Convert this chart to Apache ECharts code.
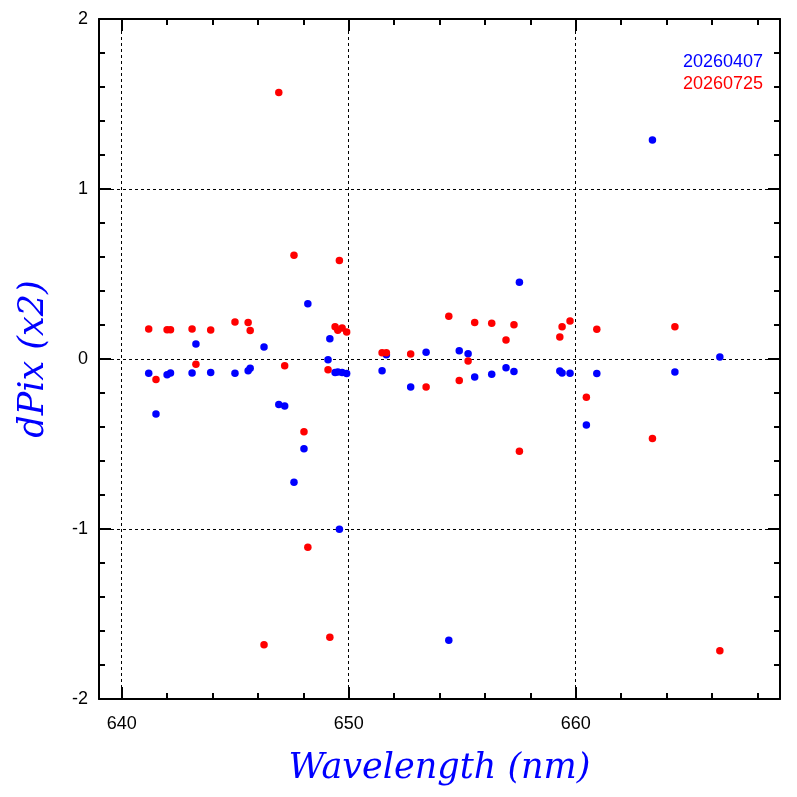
<!DOCTYPE html>
<html>
<head>
<meta charset="utf-8">
<script src="https://cdn.jsdelivr.net/npm/echarts@6/dist/echarts.min.js"></script>
<style>
  html, body { margin: 0; padding: 0; background: #fff; }
  #main { width: 797px; height: 797px; }
</style>
</head>
<body>
<div id="main"></div>
<script>
// wavelength of each line (nm)
var wavelength = [
  641.19, 641.51, 642.00, 642.15, 643.10, 643.27, 643.92, 644.99, 645.57, 645.66,
  646.27, 646.92, 647.18, 647.59, 648.03, 648.20, 649.09, 649.17, 649.40, 649.52,
  649.59, 649.71, 649.91, 651.47, 651.66, 652.73, 653.41, 654.41, 654.87, 655.26,
  655.55, 656.30, 656.93, 657.28, 657.52, 659.30, 659.40, 659.75, 660.47, 660.93,
  663.38, 664.37, 666.35
];
// dPix for run 20260407
var dpixA = [
  -0.084, -0.324, -0.092, -0.082, -0.082, 0.088, -0.080, -0.084, -0.069, -0.055,
  0.071, -0.267, -0.276, -0.725, -0.528, 0.325, -0.004, 0.119, -0.080, -0.076,
  -1.002, -0.080, -0.086, -0.069, 0.025, -0.165, 0.039, -1.655, 0.049, 0.031,
  -0.106, -0.090, -0.051, -0.074, 0.451, -0.071, -0.082, -0.084, -0.388, -0.086,
  1.288, -0.076, 0.012
];
// dPix for run 20260725
var dpixB = [
  0.176, -0.120, 0.172, 0.172, 0.176, -0.031, 0.171, 0.218, 0.214, 0.167,
  -1.681, 1.567, -0.039, 0.610, -0.428, -1.108, -0.063, -1.637, 0.190, 0.169,
  0.580, 0.182, 0.159, 0.037, 0.037, 0.029, -0.165, 0.251, -0.126, -0.012,
  0.214, 0.210, 0.112, 0.202, -0.543, 0.129, 0.190, 0.224, -0.225, 0.175,
  -0.467, 0.190, -1.716
];
var runNames = ['20260407', '20260725'];
var runColors = ['#0000ff', '#ff0000'];

var chart = echarts.init(document.getElementById('main'));

function pairs(ys) {
  return wavelength.map(function(x, i) { return [x, ys[i]]; });
}

var black = '#000';
var labelFont = 'Liberation Sans';
var titleFont = 'DejaVu Serif';

function xAx(pos, main) {
  return {
    type: 'value',
    position: pos,
    min: 639,
    max: 669,
    splitNumber: 3,
    axisLine: { onZero: false, lineStyle: { color: black, width: 2 } },
    axisTick: { inside: true, length: 12, lineStyle: { color: black, width: 2 } },
    minorTick: { show: true, splitNumber: 5, length: 6, lineStyle: { color: black, width: 2 } },
    axisLabel: {
      show: main, showMinLabel: false, showMaxLabel: false,
      color: black, fontSize: 18, fontFamily: labelFont, margin: 16
    },
    splitLine: { show: main, lineStyle: { color: black, width: 1, type: [3, 3] } },
    name: main ? 'Wavelength (nm)' : '',
    nameLocation: 'middle',
    nameGap: 52,
    nameTextStyle: { color: '#0000ff', fontSize: 35, fontStyle: 'italic', fontFamily: titleFont }
  };
}

function yAx(pos, main) {
  return {
    type: 'value',
    position: pos,
    min: -2,
    max: 2,
    interval: 1,
    axisLine: { onZero: false, lineStyle: { color: black, width: 2 } },
    axisTick: { inside: true, length: 12, lineStyle: { color: black, width: 2 } },
    minorTick: { show: true, splitNumber: 5, length: 6, lineStyle: { color: black, width: 2 } },
    axisLabel: { show: main, color: black, fontSize: 18, fontFamily: labelFont, margin: 11 },
    splitLine: { show: main, lineStyle: { color: black, width: 1, type: [3, 3] } },
    name: main ? 'dPix (x2)' : '',
    nameLocation: 'middle',
    nameGap: 48,
    nameTextStyle: { color: '#0000ff', fontSize: 35, fontStyle: 'italic', fontFamily: titleFont }
  };
}

var option = {
  animation: false,
  backgroundColor: '#fff',
  grid: { left: 99, right: 17, top: 19, bottom: 98, containLabel: false },
  legend: {
    orient: 'vertical',
    right: 34,
    top: 52,
    padding: 0,
    icon: 'none',
    itemWidth: 0,
    itemHeight: 20,
    itemGap: 3,
    selectedMode: false,
    textStyle: { fontSize: 18, fontFamily: labelFont },
    data: runNames.map(function(n, i) {
      return { name: n, textStyle: { color: runColors[i] } };
    })
  },
  xAxis: [xAx('bottom', true), xAx('top', false)],
  yAxis: [yAx('left', true), yAx('right', false)],
  series: [
    {
      name: runNames[0], type: 'scatter', symbol: 'circle', symbolSize: 7.5,
      itemStyle: { color: runColors[0], opacity: 1 }, data: pairs(dpixA)
    },
    {
      name: runNames[1], type: 'scatter', symbol: 'circle', symbolSize: 7.5,
      itemStyle: { color: runColors[1], opacity: 1 }, data: pairs(dpixB)
    }
  ]
};

chart.setOption(option);
</script>
</body>
</html>
